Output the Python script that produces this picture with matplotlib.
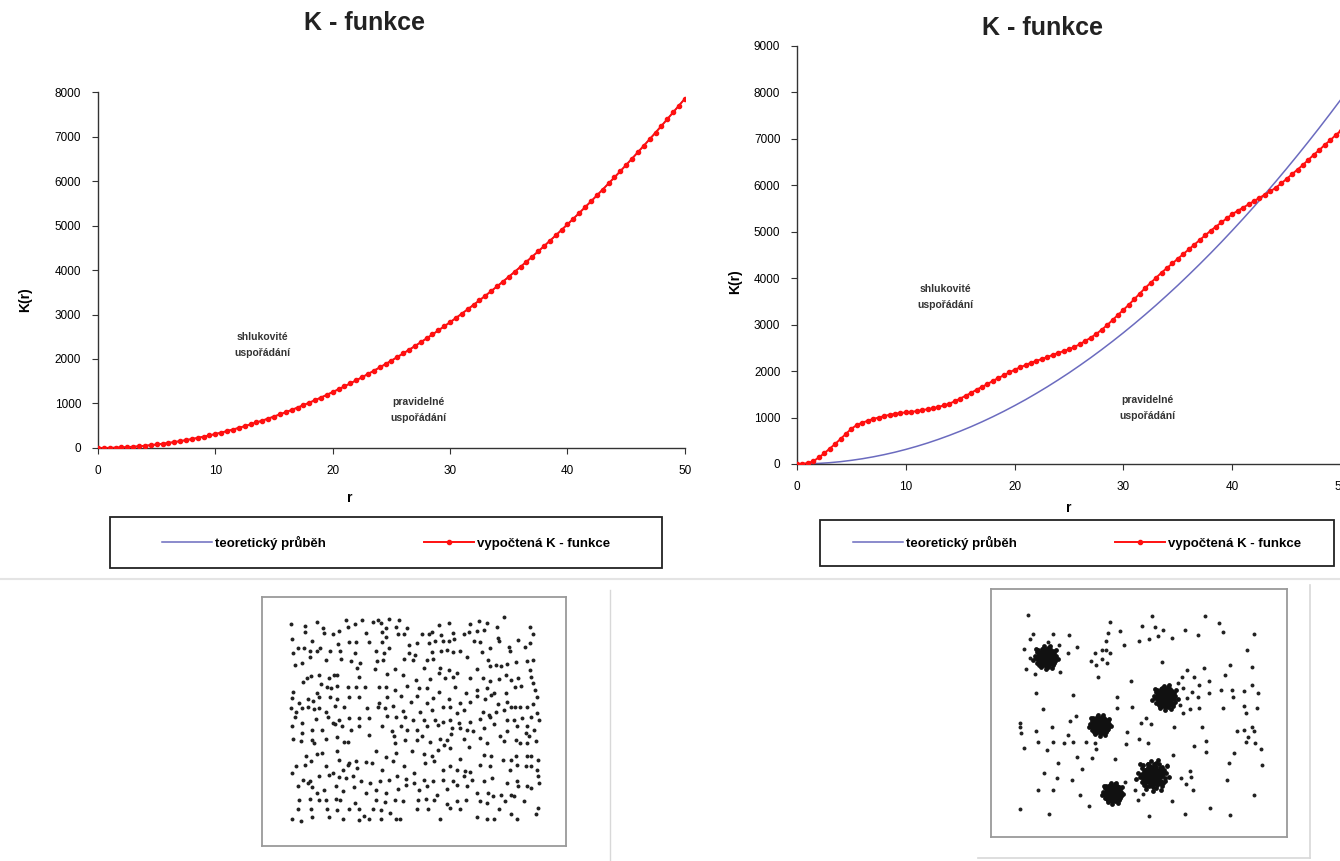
import numpy as np
import matplotlib.pyplot as plt
from matplotlib.lines import Line2D
from matplotlib.patches import Rectangle

plt.rcParams['font.family'] = ['Liberation Sans', 'DejaVu Sans']

# r po 0.5 (vypočtená K-funkce), po 1 (teoretický průběh)
r_fine = np.arange(0, 50.5, 0.5)
r_teor = np.arange(0, 51, 1)

K_teor = [0, 3, 13, 28, 50, 79, 113, 154, 201, 254, 314, 380, 452, 531, 616, 707,
          804, 908, 1018, 1134, 1257, 1385, 1521, 1662, 1810, 1963, 2124, 2290, 2463,
          2642, 2827, 3019, 3217, 3421, 3632, 3848, 4072, 4301, 4536, 4778, 5027,
          5281, 5542, 5809, 6082, 6362, 6648, 6940, 7238, 7543, 7854]

# levý graf - vypočtená K-funkce (pravidelné uspořádání)
K_lev = [0, 1, 3, 7, 13, 20, 28, 38, 50, 64, 79, 95, 113, 133, 154, 177, 201, 227,
         254, 284, 314, 346, 380, 415, 452, 491, 531, 573, 616, 661, 707, 755, 804,
         855, 908, 962, 1018, 1075, 1134, 1195, 1257, 1320, 1385, 1452, 1521, 1590,
         1662, 1735, 1810, 1886, 1963, 2043, 2124, 2206, 2290, 2376, 2463, 2552, 2642,
         2734, 2827, 2922, 3019, 3117, 3217, 3318, 3421, 3526, 3632, 3739, 3848, 3959,
         4072, 4185, 4301, 4418, 4536, 4657, 4778, 4902, 5027, 5153, 5281, 5411, 5542,
         5675, 5809, 5945, 6082, 6221, 6362, 6504, 6648, 6793, 6940, 7088, 7238, 7390,
         7543, 7697, 7850]

# pravý graf - vypočtená K-funkce (shlukovité uspořádání)
K_prav = [0, 5, 20, 60, 140, 230, 330, 430, 540, 650, 760, 840, 890, 930, 970, 1000,
          1030, 1060, 1080, 1100, 1110, 1120, 1140, 1160, 1180, 1200, 1230, 1260, 1300,
          1350, 1410, 1470, 1530, 1600, 1660, 1720, 1790, 1850, 1910, 1970, 2030, 2080,
          2130, 2180, 2220, 2260, 2300, 2350, 2390, 2430, 2470, 2520, 2580, 2650, 2720,
          2800, 2890, 2990, 3100, 3210, 3320, 3430, 3550, 3670, 3790, 3900, 4010, 4120,
          4220, 4320, 4420, 4520, 4620, 4720, 4820, 4920, 5020, 5110, 5200, 5290, 5380,
          5450, 5520, 5590, 5660, 5730, 5800, 5870, 5950, 6040, 6140, 6240, 6340, 6440,
          6550, 6660, 6760, 6870, 6970, 7080, 7180]

# body - pravidelné uspořádání (souřadnice)
body_prav = [
    (125,130),(168,138),(205,125),(222,143),(290,120),(316,130),(337,120),(370,125),(385,118),
    (395,128),(418,115),(448,118),(438,140),(473,142),(566,133),(597,127),(660,132),(686,122),
    (710,128),(740,140),(760,110),(838,140),(848,162),
    (128,175),(168,155),(225,158),(250,162),(268,152),(297,140),(350,157),(396,155),(408,143),
    (445,160),(462,160),(516,160),(538,160),(546,155),(574,163),(610,158),(642,160),(655,155),
    (680,152),(700,150),(742,172),(745,182),
    (190,183),(212,203),(265,192),(298,185),(320,187),(360,185),(398,185),(410,170),(478,195),
    (500,190),(537,190),(556,182),(580,182),(598,182),(612,175),(670,182),(690,185),(720,205),
    (775,200),(803,180),(823,202),(838,188),
    (132,218),(148,205),(164,205),(183,212),(205,213),(243,214),(273,214),(318,220),(380,213),
    (402,218),(418,205),(478,218),(496,224),(545,215),(572,213),(592,210),(608,215),(628,214),
    (650,230),(696,217),(778,212),
    (138,255),(160,250),(182,230),(232,240),(275,237),(305,244),(332,248),(382,243),(400,240),
    (462,238),(490,240),(530,240),(548,238),(570,265),(596,270),(620,280),(680,266),(712,240),
    (718,258),(738,255),(752,258),(770,252),(795,245),(828,244),(848,240),(838,270),
    (175,293),(186,288),(210,285),(240,295),(254,285),(264,285),(322,265),(330,290),(376,268),
    (412,283),(435,267),(460,285),(497,300),(522,265),(540,298),(568,280),(585,293),(608,292),
    (658,294),(698,295),(720,303),(745,298),(765,285),(780,300),(803,293),(840,290),(848,310),
    (131,335),(163,305),(204,338),(216,313),(233,320),(246,323),(262,318),(295,322),(320,320),
    (348,322),(387,320),(410,320),(436,330),(472,318),(508,324),(530,325),(566,335),(615,320),
    (647,340),(680,330),(710,325),(730,340),(766,340),(792,320),(810,318),(852,330),(860,350),
    (130,355),(150,368),(177,356),(192,362),(210,352),(242,350),(262,358),(300,350),(330,352),
    (388,368),(412,352),(430,378),(455,348),(483,367),(500,348),(530,370),(548,353),(598,358),
    (628,370),(660,366),(680,348),(705,358),(722,345),(742,372),(768,365),(792,380),(830,382),
    (848,372),
    (126,383),(142,395),(160,383),(176,382),(196,386),(210,385),(232,395),(258,378),(284,380),
    (352,383),(386,382),(406,385),(460,393),(510,395),(545,390),(578,382),(600,380),(620,398),
    (640,390),(698,395),(715,405),(737,395),(760,390),(780,380),(808,380),(815,415),(860,398),
    (840,410),
    (138,410),(160,430),(200,418),(235,410),(250,430),(270,420),(300,413),(328,415),(360,413),
    (412,408),(440,412),(465,410),(490,420),(522,420),(556,420),(580,428),(600,420),(625,430),
    (660,425),(690,418),(720,410),(730,432),(770,420),(790,420),(800,438),(828,440),(865,420),
    (128,440),(158,460),(190,450),(218,450),(258,433),(278,440),(305,450),(330,440),(398,440),
    (428,455),(455,440),(472,452),(500,450),(530,440),(565,435),(605,445),(630,445),(650,450),
    (668,455),(702,445),(748,468),(770,455),(825,460),(850,450),(835,470),
    (132,478),(155,485),(188,480),(196,490),(230,478),(262,472),(285,488),(297,488),(358,465),
    (432,470),(436,490),(465,480),(500,480),(515,468),(540,488),(570,478),(590,480),(603,462),
    (640,478),(690,475),(710,490),(760,485),(795,480),(808,490),(830,490),(855,485),
    (170,530),(205,523),(218,520),(262,515),(270,540),(300,550),(320,545),(378,515),(410,532),
    (440,520),(486,515),(523,522),(547,528),(565,510),(582,495),(600,505),(630,538),(655,502),
    (700,525),(722,530),(782,540),(795,530),(830,530),(840,530),(862,540),
    (140,560),(168,555),(186,545),(230,560),(250,580),(280,570),(296,555),(322,565),(350,548),
    (366,550),(398,570),(430,545),(462,560),(492,580),(525,550),(553,545),(580,570),(600,558),
    (620,570),(645,575),(658,576),(688,555),(720,560),(757,540),(777,570),(800,555),(826,560),
    (842,560),(860,570),
    (128,580),(162,600),(182,605),(210,590),(240,585),(268,592),(290,595),(310,590),(334,605),
    (362,610),(392,605),(418,600),(442,590),(468,598),(493,610),(522,600),(550,605),(580,600),
    (610,605),(640,590),(665,600),(700,605),(725,595),(768,610),(800,605),(830,620),(862,590),
    (146,620),(178,610),(188,622),(205,640),(226,630),(260,620),(280,635),(315,622),(350,640),
    (380,632),(410,640),(445,628),(468,615),(508,630),(530,620),(560,645),(590,628),(620,615),
    (650,620),(680,640),(712,640),(728,650),(752,645),(782,645),(803,620),(840,625),(865,610),
    (150,662),(183,658),(210,660),(232,660),(260,658),(272,660),(318,670),(378,660),(406,668),
    (436,660),(460,665),(503,660),(528,658),(552,660),(590,672),(620,665),(648,662),(690,665),
    (710,670),(763,665),(790,650),(820,665),(862,685),
    (146,690),(185,690),(233,690),(262,693),(300,690),(330,690),(345,710),(370,690),(394,692),
    (420,700),(440,718),(452,718),(500,688),(535,690),(570,720),(600,685),(630,690),(680,712),
    (710,718),(730,718),(745,690),(780,705),(800,720),(855,705),(130,720),(157,725),(190,712),
    (240,712),(282,720),(330,722),(360,720),(395,720)]

# body - shlukovité uspořádání: rozptýlené body
body_shluk = [
    (177,105),(192,162),(182,178),(165,208),(182,235),(170,268),(196,282),(250,162),(235,188),
    (268,195),(298,165),(322,202),(295,218),(272,275),(422,128),(416,160),(408,183),(452,155),
    (462,195),(375,218),(365,243),(378,255),(398,212),(410,210),(422,218),(398,238),(412,248),
    (386,292),(515,138),(545,108),(555,142),(580,152),(565,170),(538,178),(507,185),(606,175),
    (646,152),(684,165),(706,110),(746,130),(758,158),(851,163),(831,212),(575,247),(483,302),
    (201,340),(310,345),(220,388),(441,352),(441,383),(488,381),(635,290),(652,270),(672,290),
    (625,310),(640,325),(665,335),(688,315),(703,263),(716,302),(716,340),(685,350),(650,355),
    (630,375),(640,398),(660,388),(688,383),(753,330),(787,330),(790,352),(760,383),(766,285),
    (779,255),(822,333),(846,315),(845,262),(862,340),(820,377),(828,400),(860,385),(318,408),
    (300,422),(248,440),(200,452),(153,428),(153,440),(155,458),(205,485),(165,505),(232,510),
    (250,485),(282,490),(310,487),(296,466),(350,485),(375,490),(380,508),(368,533),(322,532),
    (437,537),(472,455),(468,492),(507,478),(535,488),(512,428),(528,415),(542,432),(612,442),
    (697,440),(707,484),(673,497),(707,516),(610,525),(802,452),(822,450),(832,472),(845,440),
    (850,452),(828,485),(855,490),(872,508),(875,556),(792,520),(778,550),(770,600),(266,550),
    (222,578),(261,592),(308,600),(338,567),(207,630),(249,630),(330,643),(358,678),(152,685),
    (238,700),(466,605),(497,630),(505,658),(518,640),(590,556),(633,592),(660,572),(663,590),
    (648,610),(668,628),(606,663),(538,706),(645,700),(720,684),(781,705),(852,645)]

# shluky: střed x, střed y, poloměr
shluk_x = [228, 585, 390, 548, 428]
shluk_y = [232, 352, 435, 585, 638]
shluk_r = [40, 42, 36, 54, 36]
# tvar shluku (posuny v jednotkovém kruhu)
tvar_dx = [0, .3, -.2, .5, -.4, .1, .7, -.6, .2, -.1, .8, -.8, .4, -.35, .55, -.7, .9, .15, -.3, .35,
           -.5, .05, -.15, .55, -.25, .25, -.55, .65, -.9, 0, .45, -.45, .75, -.05, .3, -.65, .2, -.2, .6, -.4]
tvar_dy = [0, .1, .3, -.2, -.3, -.5, .3, .4, .7, -.8, -.5, -.1, .45, .75, .6, -.6, .1, .3, .05, -.6,
           .1, .5, -.35, .05, -.6, -.25, -.55, -.3, .2, .9, .8, .55, -.1, -.15, -.85, 0, -.7, .6, .45, .15]

fig = plt.figure(figsize=(13.4, 8.61), dpi=100)

modra = '#6b6bbf'
cervena = '#ff1010'


def k_graf(ax, Kvyp, ymax, step):
    ax.plot(r_teor, K_teor, color=modra, lw=1.1, label='teoretický průběh', zorder=2)
    ax.plot(r_fine, Kvyp, color=cervena, lw=1.4, marker='o', ms=3,
            label='vypočtená K - funkce', zorder=3)
    ax.set_xlim(0, 50)
    ax.set_ylim(0, ymax)
    ax.set_xticks(range(0, 51, 10))
    ax.set_yticks(range(0, ymax + 1, step))
    for s in ['top', 'right']:
        ax.spines[s].set_visible(False)
    for s in ['left', 'bottom']:
        ax.spines[s].set_color('#333333')
        ax.spines[s].set_linewidth(1.0)
    ax.tick_params(labelsize=8.5, length=4, color='#333333', pad=8)
    ax.set_facecolor('white')


ax1 = fig.add_axes([0.0731, 0.4797, 0.438, 0.4134])
k_graf(ax1, K_lev, 8000, 1000)
ax1.text(14.0, 2315, 'shlukovité\nuspořádání', ha='center', va='center', fontsize=7.5,
         fontweight='bold', color='#333333', linespacing=1.7)
ax1.text(27.3, 854, 'pravidelné\nuspořádání', ha='center', va='center', fontsize=7.5,
         fontweight='bold', color='#333333', linespacing=1.7)

ax2 = fig.add_axes([0.5948, 0.4611, 0.406, 0.4855])
k_graf(ax2, K_prav, 9000, 1000)
ax2.text(13.6, 3596, 'shlukovité\nuspořádání', ha='center', va='center', fontsize=7.5,
         fontweight='bold', color='#333333', linespacing=1.7)
ax2.text(32.2, 1206, 'pravidelné\nuspořádání', ha='center', va='center', fontsize=7.5,
         fontweight='bold', color='#333333', linespacing=1.7)

# nadpisy a popisky os
fig.text(365 / 1340, 1 - 23 / 861, 'K - funkce', ha='center', va='center', fontsize=18,
         fontweight='bold', color='#222222')
fig.text(1043 / 1340, 1 - 28 / 861, 'K - funkce', ha='center', va='center', fontsize=18,
         fontweight='bold', color='#222222')
fig.text(25 / 1340, 1 - 300 / 861, 'K(r)', rotation=90, ha='center', va='center', fontsize=10,
         fontweight='bold')
fig.text(735 / 1340, 1 - 282 / 861, 'K(r)', rotation=90, ha='center', va='center', fontsize=10,
         fontweight='bold')
fig.text(350 / 1340, 1 - 498 / 861, 'r', ha='center', va='center', fontsize=10, fontweight='bold')
fig.text(1069 / 1340, 1 - 508 / 861, 'r', ha='center', va='center', fontsize=10, fontweight='bold')

# legendy
for ax, (x0, y0, x1, y1) in [(ax1, (110, 517, 662, 568)), (ax2, (820, 520, 1334, 566))]:
    fx0, fx1 = x0 / 1340, x1 / 1340
    fy0, fy1 = 1 - y1 / 861, 1 - y0 / 861
    fig.patches.append(Rectangle((fx0, fy0), fx1 - fx0, fy1 - fy0, transform=fig.transFigure,
                                 fill=False, edgecolor='#222222', lw=1.3))
    h, l = ax.get_legend_handles_labels()
    fig.legend(h, l, loc='center', bbox_to_anchor=((fx0 + fx1) / 2, (fy0 + fy1) / 2),
               ncol=2, frameon=False, handlelength=3.8, handletextpad=0.2,
               columnspacing=7.5, prop={'size': 9.5, 'weight': 'bold'})

# bodové vzory
bx, by = zip(*body_prav)
ax3 = fig.add_axes([262 / 1340, 1 - 846 / 861, 304 / 1340, 249 / 861])
ax3.scatter(bx, by, s=8, color='#222222', linewidths=0)
ax3.set_xlim(40, 945)
ax3.set_ylim(800, 50)

sx, sy = zip(*body_shluk)
ax4 = fig.add_axes([991 / 1340, 1 - 837 / 861, 296 / 1340, 248 / 861])
ax4.scatter(sx, sy, s=8, color='#222222', linewidths=0)
tdx = np.array(tvar_dx)
tdy = np.array(tvar_dy)
for cx, cy, cr in zip(shluk_x, shluk_y, shluk_r):
    for k, rot in [(1.0, 1), (0.75, -1), (0.5, 1), (0.3, -1)]:
        ax4.scatter(cx + cr * k * tdx * rot, cy + cr * k * tdy, s=12, color='#111111',
                    linewidths=0)
ax4.set_xlim(65, 950)
ax4.set_ylim(770, 28)

for ax in [ax3, ax4]:
    ax.set_xticks([])
    ax.set_yticks([])
    for s in ax.spines.values():
        s.set_color('#9a9a9a')
        s.set_linewidth(1.3)

# dělicí čáry
sed = '#d8d8d8'
fig.add_artist(Line2D([0, 1], [1 - 579 / 861] * 2, transform=fig.transFigure, color='#e4e4e4', lw=1.5))
fig.add_artist(Line2D([610 / 1340] * 2, [0, 1 - 590 / 861], transform=fig.transFigure, color=sed, lw=1))
fig.add_artist(Line2D([978 / 1340, 1310 / 1340], [1 - 858 / 861] * 2, transform=fig.transFigure,
                      color=sed, lw=1.2))
fig.add_artist(Line2D([1310 / 1340] * 2, [1 - 858 / 861, 1 - 585 / 861], transform=fig.transFigure,
                      color=sed, lw=1.2))

fig.savefig('out.png', dpi=100)
